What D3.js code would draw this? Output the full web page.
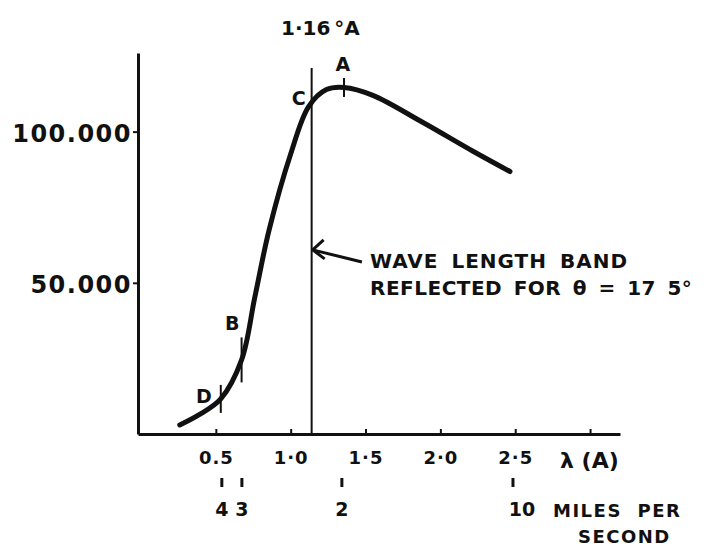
<!DOCTYPE html>
<html>
<head>
<meta charset="utf-8">
<script src="https://cdn.jsdelivr.net/npm/d3@7"></script>
<style>
  body { margin: 0; background: #fff; }
  svg text { font-family: "DejaVu Sans", sans-serif; font-weight: bold; fill: #111; }
</style>
</head>
<body>
<div id="chart"></div>
<script>
// curve: wavelength (A) and intensity
const lambdaVals = [0.259, 0.386, 0.533, 0.672, 0.761, 0.856, 1.0, 1.12, 1.239, 1.356, 1.549, 1.884, 2.218, 2.465];
const intensity = [2980, 6300, 11600, 24500, 45400, 67500, 92600, 108300, 113900, 114600, 112000, 103000, 93500, 86800];

const xTicks = [0.5, 1.0, 1.5, 2.0, 2.5, 3.0];
const xTickLabels = ["0.5", "1·0", "1·5", "2·0", "2·5", ""];
const yTicks = [50000, 100000];
const yTickLabels = ["50.000", "100.000"];

// marked points on the curve
const markLabels = ["D", "B", "C", "A"];
const markLambda = [0.533, 0.672, 1.12, 1.356];
const markIntensity = [11600, 24500, 108300, 114600];

// second scale: speeds in miles per second
const speedLambda = [0.54, 0.674, 1.342, 2.485];
const speedLabels = ["4", "3", "2", "10"];

const bandLambda = 1.14;

const W = 728, H = 546;
const svg = d3.select("#chart").append("svg")
    .attr("width", W)
    .attr("height", H);

const x = d3.scaleLinear().domain([-0.02, 3.2]).range([138, 620]);
const y = d3.scaleLinear().domain([0, 126000]).range([434, 53]);

// y axis
const yAxis = d3.axisLeft(y)
    .tickValues(yTicks)
    .tickFormat((d, i) => yTickLabels[i])
    .tickSizeInner(5)
    .tickSizeOuter(0)
    .tickPadding(1);

const gy = svg.append("g")
    .attr("transform", `translate(${x(-0.02)},0)`)
    .call(yAxis);
gy.select(".domain").attr("stroke", "#111").attr("stroke-width", 3);
gy.selectAll(".tick line").attr("stroke", "#111").attr("stroke-width", 2);
gy.selectAll(".tick text")
    .attr("font-size", 24)
    .attr("letter-spacing", 1.5)
    .attr("dy", "0.4em");

// x axis, ticks pointing up
const xAxis = d3.axisBottom(x)
    .tickValues(xTicks)
    .tickFormat((d, i) => xTickLabels[i])
    .tickSizeInner(-5)
    .tickSizeOuter(0)
    .tickPadding(17);

const gx = svg.append("g")
    .attr("transform", `translate(0,${y(0)})`)
    .call(xAxis);
gx.select(".domain").attr("stroke", "#111").attr("stroke-width", 3);
gx.selectAll(".tick line").attr("stroke", "#111").attr("stroke-width", 2);
gx.selectAll(".tick text")
    .attr("font-size", 18)
    .attr("letter-spacing", 1);

svg.append("text")
    .attr("x", 560)
    .attr("y", 468)
    .attr("font-size", 22)
    .text("λ (A)");

// speed scale under the axis
svg.selectAll(".speed-tick")
    .data(speedLambda)
    .enter()
    .append("line")
    .attr("class", "speed-tick")
    .attr("x1", d => x(d))
    .attr("x2", d => x(d))
    .attr("y1", 478)
    .attr("y2", 487)
    .attr("stroke", "#111")
    .attr("stroke-width", 3);

svg.selectAll(".speed-label")
    .data(speedLambda)
    .enter()
    .append("text")
    .attr("class", "speed-label")
    .attr("x", (d, i) => x(d) + (speedLabels[i] === "10" ? 9 : 0))
    .attr("y", 516)
    .attr("text-anchor", "middle")
    .attr("font-size", 19)
    .text((d, i) => speedLabels[i]);

svg.append("text")
    .attr("x", 553)
    .attr("y", 517)
    .attr("font-size", 18)
    .attr("letter-spacing", 1.5)
    .attr("word-spacing", 8)
    .text("MILES PER");

svg.append("text")
    .attr("x", 578)
    .attr("y", 543)
    .attr("font-size", 18)
    .attr("letter-spacing", 1.5)
    .text("SECOND");

// wave length band line
svg.append("line")
    .attr("x1", x(bandLambda))
    .attr("x2", x(bandLambda))
    .attr("y1", y(121000))
    .attr("y2", y(0))
    .attr("stroke", "#111")
    .attr("stroke-width", 2);

svg.append("text")
    .attr("x", 281)
    .attr("y", 35)
    .attr("font-size", 20)
    .text("1·16")
    .append("tspan")
    .attr("dx", 4)
    .text("°A");

// the curve
const pts = lambdaVals.map((d, i) => [d, intensity[i]]);
const line = d3.line()
    .x(d => x(d[0]))
    .y(d => y(d[1]))
    .curve(d3.curveCatmullRom.alpha(0.5));

svg.append("path")
    .datum(pts)
    .attr("d", line)
    .attr("fill", "none")
    .attr("stroke", "#111")
    .attr("stroke-width", 5)
    .attr("stroke-linecap", "round");

// markers on the curve
const tickLen = { A: 19, B: 45, C: 0, D: 28 };
const labelOff = { A: [-1, -16, "middle"], B: [-2, -30, "end"], C: [-3, -2, "end"], D: [-9, 4, "end"] };

markLabels.forEach((m, i) => {
    const px = x(markLambda[i]);
    const py = y(markIntensity[i]);
    if (tickLen[m] > 0) {
        svg.append("line")
            .attr("x1", px).attr("x2", px)
            .attr("y1", py - tickLen[m] / 2)
            .attr("y2", py + tickLen[m] / 2)
            .attr("stroke", "#111")
            .attr("stroke-width", 2);
    }
    svg.append("text")
        .attr("x", px + labelOff[m][0])
        .attr("y", py + labelOff[m][1])
        .attr("text-anchor", labelOff[m][2])
        .attr("font-size", 19)
        .text(m);
});

// arrow to the band line
const tipX = x(bandLambda) + 1, tipY = y(60900);
const tailX = x(1.476), tailY = y(56900);
svg.append("path")
    .attr("d", `M${tailX},${tailY}L${tipX},${tipY}M${tipX + 11},${tipY - 10}L${tipX},${tipY}L${tipX + 12},${tipY + 9}`)
    .attr("fill", "none")
    .attr("stroke", "#111")
    .attr("stroke-width", 3)
    .attr("stroke-linejoin", "round");

svg.append("text")
    .attr("x", 370)
    .attr("y", 268)
    .attr("font-size", 20)
    .attr("letter-spacing", 1)
    .attr("word-spacing", 5)
    .text("WAVE LENGTH BAND");

svg.append("text")
    .attr("x", 370)
    .attr("y", 295)
    .attr("font-size", 20)
    .attr("letter-spacing", 0.5)
    .attr("word-spacing", 4)
    .text("REFLECTED FOR θ = 17 5°");
</script>
</body>
</html>
